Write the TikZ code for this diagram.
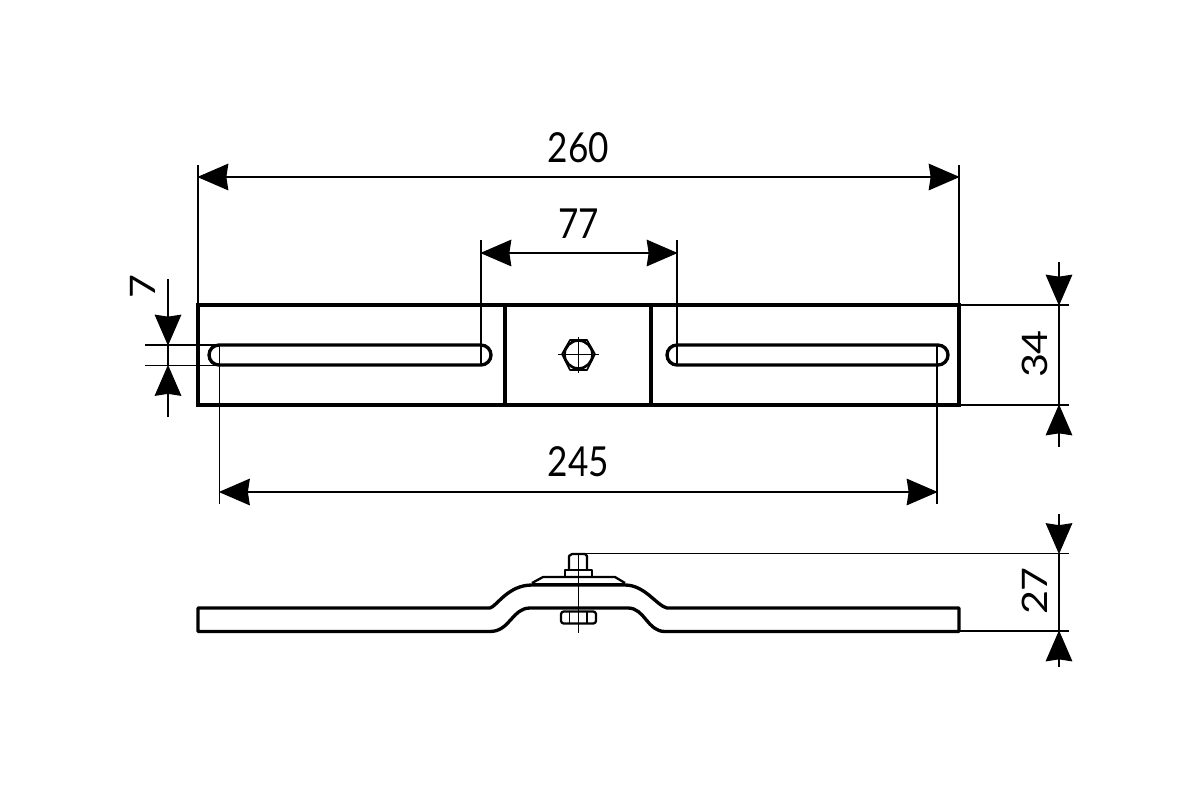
\documentclass[tikz,border=0pt]{standalone}
\usepackage{fontspec}
\setmainfont{Lato}
\usetikzlibrary{arrows.meta,calc}
\tikzset{
  x=0.75pt,y=-0.75pt,
  main/.style={draw=black,line width=2.5pt,line join=miter},
  medium/.style={draw=black,line width=1.7pt,line join=round},
  thin line/.style={draw=black,line width=1.1pt},
  hair/.style={draw=black,line width=1pt},
  dimtip/.tip={Stealth[length=23.25pt,width=20pt,inset=1.5pt]},
  dim/.style={hair,{dimtip}-{dimtip},shorten <=-0.5pt,shorten >=-0.5pt},
  tipin/.style={hair,-{dimtip},shorten >=-0.5pt},
  dimtext/.style={inner sep=0pt,font=\fontsize{31pt}{31pt}\selectfont,xscale=0.85}
}
\begin{document}
\begin{tikzpicture}
\useasboundingbox (0,0) rectangle (1200,800);
\fill[white] (0,0) rectangle (1200,800);

% reference coordinates
\coordinate (PL) at (198,305); \coordinate (PR) at (959,405);
\coordinate (A) at (198,177); \coordinate (B) at (959,177);
\coordinate (C) at (481,253); \coordinate (D) at (677,253);
\coordinate (E) at (219.5,492); \coordinate (F) at (937,492);

% extension lines
\draw[hair] (198,165) -- (A) -- (198,305);
\draw[hair] (959,165) -- (B) -- (959,305);
\draw[hair] (481,240) -- (C) -- (481,365);
\draw[hair] (677,240) -- (D) -- (677,365);
\draw[hair] (219.5,345) -- (E) -- (219.5,504);
\draw[hair] (937,345) -- (F) -- (937,504);
\draw[hair] (145,345) -- (215,345);
\draw[hair] (145,365.5) -- (215,365.5);
\draw[hair] (959,305) -- (1069,305);
\draw[hair] (959,405) -- (1069,405);
\draw[hair] (578,553.5) -- (1069,553.5);
\draw[hair] (959,631) -- (1069,631);

% dimension lines
\draw[dim] (A) -- (B);
\draw[dim] (C) -- (D);
\draw[dim] (E) -- (F);
\coordinate (G1) at (168,279); \coordinate (G2) at (168,345);
\coordinate (G3) at (168,417); \coordinate (G4) at (168,365.5);
\draw[tipin] (G1) -- (G2);
\draw[tipin] (G3) -- (G4);
\draw[hair] (G2) -- (G4);
\coordinate (H1) at (1059,262); \coordinate (H2) at (1059,305);
\coordinate (H3) at (1059,447); \coordinate (H4) at (1059,405);
\draw[tipin] (H1) -- (H2);
\draw[tipin] (H3) -- (H4);
\draw[hair] (H2) -- (H4);
\coordinate (J1) at (1059,514); \coordinate (J2) at (1059,553.5);
\coordinate (J3) at (1059,667); \coordinate (J4) at (1059,631);
\draw[tipin] (J1) -- (J2);
\draw[tipin] (J3) -- (J4);
\draw[hair] (J2) -- (J4);

% top view
\draw[main] (PL) rectangle (PR);
\draw[main] (505,305) -- (505,405);
\draw[main] (651,305) -- (651,405);
\draw[main] (219,345) -- (481,345) arc[start angle=90,end angle=-90,radius=7.5pt] -- (219,365) arc[start angle=-90,end angle=-270,radius=7.5pt] -- cycle;
\draw[main] (677,345) -- (938,345) arc[start angle=90,end angle=-90,radius=7.5pt] -- (677,365) arc[start angle=-90,end angle=-270,radius=7.5pt] -- cycle;
\draw[medium,line width=1.2pt] (562,354) -- (570,340) -- (587,340) -- (595,354) -- (587,370) -- (570,370) -- cycle;
\draw[medium,line width=2pt] (578.5,354.5) circle[radius=10.5pt];
\draw[hair] (558,354.5) -- (599,354.5);
\draw[hair] (578.5,337) -- (578.5,373);

% side view
\draw[main,line join=round] (198,608) -- (490,608)
  .. controls (497,606) and (508,585) .. (532,585)
  -- (625,585)
  .. controls (645,585) and (657,606) .. (667,608)
  -- (959,608) -- (959,631.5) -- (665,631.5)
  .. controls (647,631.5) and (645,608) .. (628,608)
  -- (530,608)
  .. controls (512,608) and (510,631.5) .. (490,631.5)
  -- (198,631.5) -- cycle;
\draw[main] (532,584.5) -- (625,584.5);
\draw[medium] (532,583) -- (543,577) -- (615,577) -- (625,583);
\draw[medium] (565,577) -- (565,570) -- (592,570) -- (592,577);
\draw[medium] (569,570) -- (569,556) -- (572,554) -- (585,554) -- (587,556) -- (587,570);
\draw[medium,rounded corners=2pt] (561,611.5) rectangle (596,623.5);
\draw[thin line] (569.5,611.5) -- (569.5,623.5);
\draw[thin line] (587,611.5) -- (587,623.5);
\draw[hair] (578.5,553.5) -- (578.5,633);

% dimension texts
\node[dimtext] (t260) at (578.5,148) {260};
\node[dimtext] (t77) at (578.5,224) {77};
\node[dimtext] (t245) at (578.5,462) {245};
\node[dimtext,rotate=90] (t7) at (143,287) {7};
\node[dimtext,rotate=90] (t34) at (1035,354) {34};
\node[dimtext,rotate=90] (t27) at (1035,591) {27};
\end{tikzpicture}
\end{document}
